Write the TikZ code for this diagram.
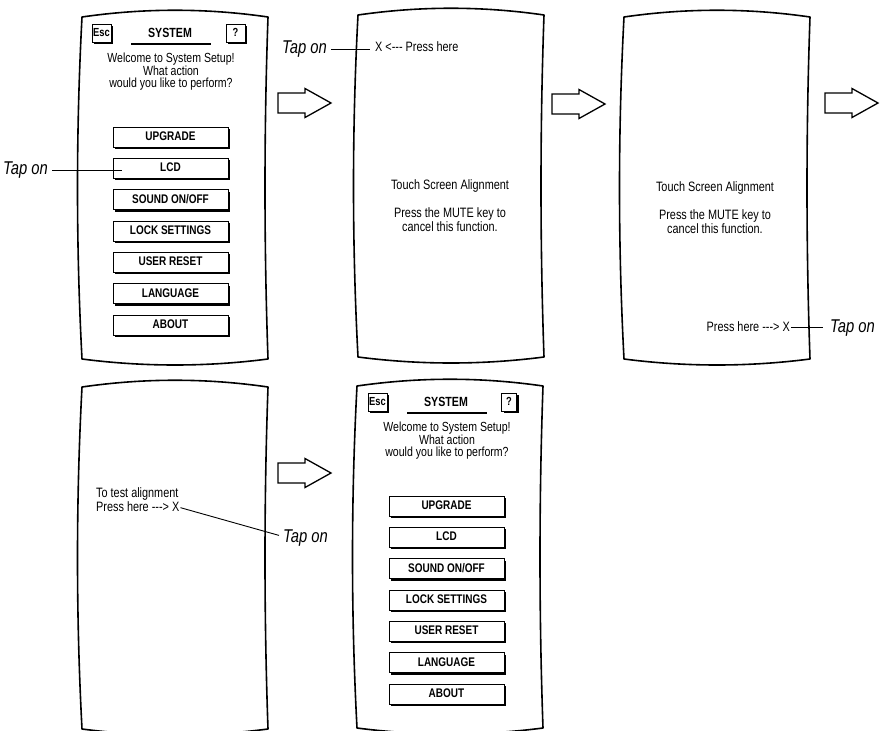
\documentclass[tikz,border=0pt]{standalone}
\usepackage{fontspec}
\setmainfont{Liberation Sans}[FakeStretch=0.8]
\usetikzlibrary{shadows}
\tikzset{
  screen/.style={line width=1.6pt, line join=round},
  txt/.style={inner sep=0pt, font=\fontsize{13.6}{15}\selectfont, text height=0.72em, text depth=0pt},
  welcometxt/.style={txt, font=\fontsize{13.2}{15}\selectfont},
  tap/.style={inner sep=0pt, font=\fontsize{18.5}{20}\selectfont\itshape, text height=0.72em, text depth=0pt},
  menubtn/.style={draw, line width=0.9pt, fill=white, minimum width=115pt, minimum height=20pt,
    inner sep=0pt, font=\fontsize{12.5}{14}\selectfont\bfseries, text height=0.72em, text depth=0pt,
    drop shadow={shadow xshift=2pt, shadow yshift=-2pt, opacity=1, fill=black}},
  smallbtn/.style={menubtn, minimum width=19pt, minimum height=18pt, font=\fontsize{11.7}{13}\selectfont\bfseries},
  titletxt/.style={inner sep=0pt, font=\fontsize{13.3}{15}\selectfont\bfseries, text height=0.72em, text depth=0pt},
  connector/.style={line width=0.9pt},
  arrowline/.style={line width=1.3pt, fill=white, line join=miter},
  blockarrow/.pic={\draw[arrowline] (0,-10) -- (27,-10) -- (27,-14.5) -- (53,0) -- (27,14.5) -- (27,10) -- (0,10) -- cycle;}
}
\newcommand\screenframe[2]{%
  \draw[screen] (#1,#2) .. controls +(62,-9) and +(-62,-9) .. ++(186,0)
    .. controls +(-4,114) and +(-4,-114) .. ++(0,342)
    .. controls +(-62,8) and +(62,8) .. ++(-186,0)
    .. controls +(-6,-114) and +(-6,114) .. (#1,#2) -- cycle;}
\newcommand\menuscreen[5]{% prefix, dx, dy, ? centre x, ? width
  \begin{scope}[shift={(#2,#3)}]
    \node[smallbtn] (#1esc) at (101.5,33) {Esc};
    \node[smallbtn, minimum width=#5] (#1q) at (#4,33) {?};
    \node[titletxt, anchor=base] (#1sys) at (170,37.5) {SYSTEM};
    \draw[line width=1.3pt] (131,44) -- (211,44);
    \node[welcometxt, anchor=base] (#1wa) at (171,62.5) {Welcome to System Setup!};
    \node[welcometxt, anchor=base] (#1wb) at (171,75) {What action};
    \node[welcometxt, anchor=base] (#1wc) at (171,87.5) {would you like to perform?};
    \node[menubtn] (#1up)   at (170.5,137) {UPGRADE};
    \node[menubtn] (#1lcd)  at (170.5,168.3) {LCD};
    \node[menubtn] (#1snd)  at (170.5,199.7) {SOUND ON/OFF};
    \node[menubtn] (#1lock) at (170.5,231) {LOCK SETTINGS};
    \node[menubtn] (#1rst)  at (170.5,262.3) {USER RESET};
    \node[menubtn] (#1lang) at (170.5,293.7) {LANGUAGE};
    \node[menubtn] (#1abt)  at (170.5,325) {ABOUT};
  \end{scope}}
\begin{document}
\begin{tikzpicture}[x=1pt, y=-1pt]
\useasboundingbox (0,0) rectangle (881,731);

% screen frames
\screenframe{82}{17}
\screenframe{358}{15}
\screenframe{624}{17}
\screenframe{82}{387}
\screenframe{357}{386}

% screen 1: menu
\menuscreen{m1}{0}{0}{235.5}{19pt}
\node[tap, anchor=base west] (tap1) at (3,174) {Tap on};
\coordinate (hit1) at (122,168);
\draw[connector, shorten <=4pt] (tap1.east) -- (tap1.east -| hit1);

% screen 2
\node[tap, anchor=base west] (tap2) at (282,53) {Tap on};
\node[txt, anchor=base west] (press2) at (375,51) {X <-{}-{}- Press here};
\draw[connector, shorten <=4pt, shorten >=5pt] (tap2.east) -- (tap2.east -| press2.west);
\node[txt, anchor=base] (al2a) at (450,189) {Touch Screen Alignment};
\node[txt, anchor=base] (al2b) at (450,217) {Press the MUTE key to};
\node[txt, anchor=base] (al2c) at (450,231) {cancel this function.};

% screen 3
\node[txt, anchor=base] (al3a) at (715,191) {Touch Screen Alignment};
\node[txt, anchor=base] (al3b) at (715,219) {Press the MUTE key to};
\node[txt, anchor=base] (al3c) at (715,233) {cancel this function.};
\node[txt, anchor=base east] (press3) at (790,331) {Press here -{}-{}-> X};
\node[tap, anchor=base west] (tap3) at (830,332) {Tap on};
\draw[connector, shorten <=1pt, shorten >=7pt] (press3.east) -- (press3.east -| tap3.west);

% screen 4
\node[txt, anchor=base west] (test4) at (96,497.5) {To test alignment};
\node[txt, anchor=base west] (press4) at (96,511) {Press here -{}-{}-> X};
\node[tap, anchor=base west] (tap4) at (283,542) {Tap on};
\draw[connector, shorten <=1pt] (press4.east) -- ([xshift=-4pt,yshift=3pt]tap4.west);

% screen 5: menu again
\menuscreen{m5}{276}{369}{233}{15pt}

% block arrows
\pic at (278,103) {blockarrow};
\pic at (552,104) {blockarrow};
\pic at (825,103) {blockarrow};
\pic at (278,473) {blockarrow};
\end{tikzpicture}
\end{document}
